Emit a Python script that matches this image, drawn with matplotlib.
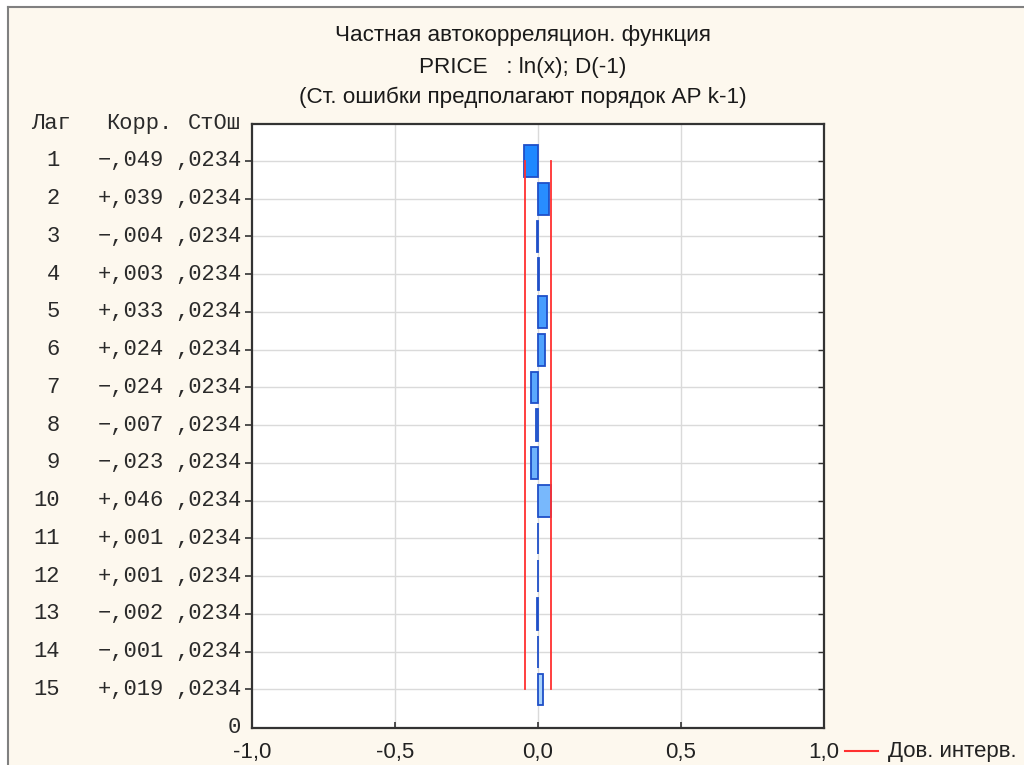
import matplotlib
matplotlib.use("Agg")
import matplotlib.pyplot as plt
import matplotlib.transforms as mtransforms
from matplotlib.lines import Line2D
from matplotlib.patches import Rectangle
from matplotlib.colors import to_rgb
import numpy as np

# ---- data ----
lags = list(range(1, 16))
corr = [-0.049, 0.039, -0.004, 0.003, 0.033, 0.024, -0.024, -0.007,
        -0.023, 0.046, 0.001, 0.001, -0.002, -0.001, 0.019]
std_err = [0.0234] * 15
x_ticks = [-1.0, -0.5, 0.0, 0.5, 1.0]
x_tick_labels = ["-1,0", "-0,5", "0,0", "0,5", "1,0"]
title_lines = ["Частная автокорреляцион. функция",
               "PRICE   : ln(x); D(-1)",
               "(Ст. ошибки предполагают порядок АР k-1)"]
header = ["Лаг", "Корр.", "СтОш"]
legend_label = "Дов. интерв."

W, H = 1024, 765
DPI = 100
fig = plt.figure(figsize=(W / DPI, H / DPI), dpi=DPI, facecolor="white")

# window-like cream panel with gray border on top/left
cream = "#FDF8EE"
fig.patches.append(Rectangle((8 / W, 0), 1 - 8 / W, 1 - 7 / H, transform=fig.transFigure,
                             facecolor=cream, edgecolor="none", zorder=-10))
fig.lines.append(Line2D([8 / W, 1], [1 - 7 / H, 1 - 7 / H], transform=fig.transFigure,
                        color="#808080", lw=1.5, zorder=-5))
fig.lines.append(Line2D([8 / W, 8 / W], [0, 1 - 7 / H], transform=fig.transFigure,
                        color="#808080", lw=1.5, zorder=-5))

# axes placement (pixels)
ax_l, ax_r, ax_t, ax_b = 252, 824, 124, 728
ax = fig.add_axes([ax_l / W, 1 - ax_b / H, (ax_r - ax_l) / W, (ax_b - ax_t) / H])
ax.set_zorder(5)
ax.set_facecolor("white")
ax.set_xlim(-1, 1)
ax.set_ylim(16.02, 0.02)

# grid
for lg in lags:
    ax.axhline(lg, color="#DADADA", lw=1.0, zorder=1)
for xv in [-0.5, 0.0, 0.5]:
    ax.axvline(xv, color="#DADADA", lw=1.0, zorder=1)

# bars with gradient colours
c0 = np.array(to_rgb("#1E88FF"))
c1 = np.array(to_rgb("#AAD3FA"))
n = len(lags)
colors = [tuple(c0 + (c1 - c0) * (i / (n - 1))) for i in range(n)]
ax.barh(lags, corr, height=0.84, color=colors, edgecolor="#1F4FC8", linewidth=1.3, zorder=3)

# confidence limits
upper = [2 * s for s in std_err]
lower = [-2 * s for s in std_err]
ax.plot(upper, lags, color="#FF3030", lw=1.3, zorder=4)
ax.plot(lower, lags, color="#FF3030", lw=1.3, zorder=4)

# spines / ticks
for sp in ax.spines.values():
    sp.set_color("#333333")
    sp.set_linewidth(1.6)
ax.set_xticks(x_ticks)
ax.set_xticklabels(x_tick_labels, fontsize=16, family="Liberation Sans", color="#222222")
ax.tick_params(axis="x", direction="in", length=4, width=1.2, pad=10, color="#333333")
ax.set_yticks(lags)
ax.set_yticklabels([""] * n)
ax.tick_params(axis="y", direction="out", length=5, width=1.2, color="#333333", right=False)
for lg in lags:
    ax.plot([1.0], [lg], marker=0, markersize=4, color="#333333", clip_on=False, zorder=5)

# title
title_y = [36, 67, 97]
for txt, yp in zip(title_lines, title_y):
    fig.text(523 / W, 1 - yp / H, txt, ha="center", va="center", fontsize=16.2,
             family="Liberation Sans", color="#1a1a1a")

# table on the left
mono = ["Liberation Mono", "DejaVu Sans Mono"]
tf = mtransforms.blended_transform_factory(fig.transFigure, ax.transData)
fs = 15.9
tcol = "#2a2a2a"
ax.text(31 / W, 0.0, header[0], transform=tf, ha="left", va="center", fontsize=fs, family=mono, color=tcol)
ax.text(172 / W, 0.0, header[1], transform=tf, ha="right", va="center", fontsize=fs, family=mono, color=tcol)
ax.text(241 / W, 0.0, header[2], transform=tf, ha="right", va="center", fontsize=fs, family=mono, color=tcol)
for lg, c, s in zip(lags, corr, std_err):
    cs = ("+" if c >= 0 else "\u2212") + "," + f"{round(abs(c) * 1000):03d}"
    ss = "," + f"{round(s * 10000):04d}"
    ax.text(60 / W, lg, str(lg), transform=tf, ha="right", va="center", fontsize=fs, family=mono, color=tcol)
    ax.text(98 / W, lg, cs, transform=tf, ha="left", va="center", fontsize=fs, family=mono, color=tcol)
    ax.text(241 / W, lg, ss, transform=tf, ha="right", va="center", fontsize=fs, family=mono, color=tcol)
ax.text(241 / W, 16.0, "0", transform=tf, ha="right", va="center", fontsize=fs, family=mono, color=tcol)

# legend at bottom right
ly = 1 - 751 / H
fig.lines.append(Line2D([845 / W, 878 / W], [ly, ly], transform=fig.transFigure, color="#FF3030", lw=1.5))
fig.text(888 / W, ly, legend_label, ha="left", va="center", fontsize=16,
         family="Liberation Sans", color="#222222")

fig.savefig("out.png", dpi=DPI, facecolor=fig.get_facecolor())
